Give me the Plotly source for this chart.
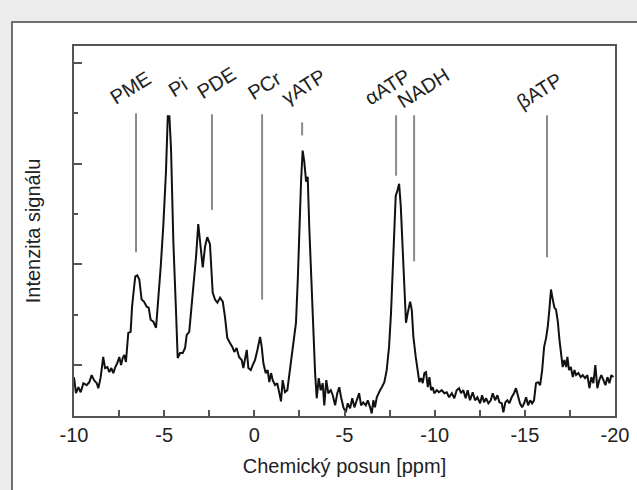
import plotly.graph_objects as go

# ---- spectrum (chemical shift in ppm, intensity in a.u.) ----
ppm = [10.00, 9.89, 9.76, 9.63, 9.48, 9.30, 9.15, 9.02, 8.89, 8.74, 8.65, 8.52, 8.38, 8.28, 8.15, 8.04,
       7.93, 7.82, 7.71, 7.60, 7.49, 7.39, 7.30, 7.21, 7.12, 6.99, 6.86, 6.78, 6.67, 6.60, 6.49, 6.38,
       6.25, 6.12, 5.97, 5.86, 5.75, 5.60, 5.45, 5.32, 5.19, 5.05, 4.90, 4.80, 4.71, 4.62, 4.49, 4.34,
       4.25, 4.12, 3.97, 3.84, 3.75, 3.61, 3.47, 3.35, 3.23, 3.11, 2.97, 2.86, 2.73, 2.61, 2.46, 2.31,
       2.18, 2.05, 1.90, 1.75, 1.63, 1.50, 1.35, 1.22, 1.11, 0.98, 0.85, 0.70, 0.61, 0.52, 0.42, 0.33,
       0.20, 0.09, -0.04, -0.17, -0.32, -0.41, -0.50, -0.63, -0.74, -0.83, -0.93, -1.02, -1.15, -1.27,
       -1.39, -1.48, -1.57, -1.70, -1.83, -1.98, -2.09, -2.20, -2.31, -2.41, -2.49, -2.59, -2.68, -2.77,
       -2.87, -2.96, -3.05, -3.18, -3.27, -3.37, -3.46, -3.57, -3.68, -3.79, -3.88, -3.99, -4.10, -4.24,
       -4.35, -4.48, -4.60, -4.71, -4.81, -4.94, -5.07, -5.18, -5.31, -5.43, -5.55, -5.68, -5.81, -5.92,
       -6.04, -6.18, -6.29, -6.42, -6.51, -6.60, -6.69, -6.79, -6.88, -6.97, -7.07, -7.21, -7.34, -7.47,
       -7.58, -7.68, -7.76, -7.84, -7.93, -8.03, -8.12, -8.21, -8.30, -8.41, -8.51, -8.64, -8.73, -8.82,
       -8.95, -9.06, -9.15, -9.25, -9.34, -9.43, -9.52, -9.62, -9.71, -9.80, -9.89, -9.98, -10.12, -10.24,
       -10.39, -10.54, -10.67, -10.80, -10.95, -11.09, -11.22, -11.35, -11.46, -11.59, -11.72, -11.83,
       -11.96, -12.11, -12.24, -12.37, -12.52, -12.63, -12.74, -12.85, -12.98, -13.11, -13.22, -13.35,
       -13.48, -13.59, -13.72, -13.81, -13.92, -14.03, -14.14, -14.27, -14.40, -14.51, -14.62, -14.73,
       -14.85, -14.96, -15.07, -15.18, -15.29, -15.40, -15.51, -15.62, -15.73, -15.85, -15.96, -16.07,
       -16.18, -16.27, -16.36, -16.45, -16.55, -16.64, -16.73, -16.83, -16.92, -17.01, -17.10, -17.19,
       -17.29, -17.36, -17.45, -17.55, -17.66, -17.75, -17.84, -17.97, -18.10, -18.21, -18.34, -18.47,
       -18.58, -18.69, -18.80, -18.91, -19.02, -19.13, -19.24, -19.36, -19.47, -19.58, -19.69, -19.80,
       -19.91]
intensity = [-12, -28, -22, -27, -18, -20, -17, -10, -15, -18, -23, -12, 8, -3, -2, -7,
             -3, -8, -2, 2, 8, 0, 7, 10, 3, 32, 33, 58, 77, 88, 89, 85,
             65, 63, 58, 57, 45, 43, 37, 65, 98, 138, 192, 247, 247, 215, 122, 52,
             7, 12, 12, 17, 30, 33, 58, 82, 108, 140, 112, 97, 118, 127, 120, 72,
             65, 62, 67, 63, 48, 27, 22, 18, 13, 17, 8, 5, -3, 7, 15, -3,
             -5, 0, 5, 15, 28, 18, 2, -8, -5, -17, -8, -15, -20, -18,
             -27, -36, -15, -27, -25, -5, 15, 28, 42, 85, 135, 182, 213, 202,
             182, 187, 135, 75, 28, -8, -33, -13, -25, -18, -40, -15, -28, -25,
             -30, -40, -28, -22, -32, -42, -47, -38, -43, -33, -42, -35, -28, -40,
             -37, -40, -35, -42, -48, -35, -42, -32, -28, -25, -22, -17, -5, 18,
             52, 95, 138, 168, 173, 180, 158, 122, 82, 42, 52, 63, 55, 28,
             8, -8, -17, -13, -18, -8, -7, -22, -12, -25, -22, -28, -25, -27,
             -25, -28, -27, -32, -28, -33, -25, -23, -28, -25, -33, -25,
             -35, -27, -35, -32, -38, -30, -37, -33, -38, -35, -28, -35,
             -30, -37, -38, -47, -37, -35, -38, -32, -28, -23, -32, -38,
             -42, -38, -32, -40, -35, -38, -35, -18, -17, -20, -5, 18,
             27, 38, 55, 75, 65, 57, 55, 43, 25, 8, -2, 5,
             -2, 8, -5, -2, -12, -5, -10, -8, -12, -10, -13, -10,
             -23, -12, -18, 0, -23, -15, -10, -15, -20, -12, -18, -10,
             -12]

# ---- peak assignment markers ----
marker_names = ["PME", "PDE", "PCr", "γATP", "αATP", "NADH", "βATP"]
marker_ppm = [6.56, 2.35, -0.43, -2.65, -7.86, -8.86, -16.23]
marker_top = [250, 249, 249, 241, 248, 248, 248]
marker_bottom = [112, 154, 65, 228, 188, 103, 107]

# ---- rotated labels ----
label_names = ["PME", "Pi", "PDE", "PCr", "γATP", "αATP", "NADH", "βATP"]
label_ppm = [6.89, 4.23, 2.12, -0.59, -2.70, -7.36, -9.36, -15.79]
label_y = [275, 276, 280, 278, 276, 276, 275, 272]

# ---- axis ticks ----
x_tickvals = [10, 5, 0, -5, -10, -15, -20]
x_ticktext = ["-10", "-5", "0", "-5", "-10", "-15", "-20"]
x_minor = [7.5, 2.5, -2.5, -7.5, -12.5, -17.5]
y_tickvals = [0, 100, 200, 300]
y_minor = [50, 150, 250]

FONT = "Liberation Sans, Arial, sans-serif"
TXT = "#222222"
AXC = "#555555"
FS = 20

fig = go.Figure()

mx, my = [], []
for p, t, b in zip(marker_ppm, marker_top, marker_bottom):
    mx += [p, p, None]
    my += [t, b, None]
fig.add_trace(go.Scatter(x=mx, y=my, mode="lines",
                         line=dict(color="#8a8a8a", width=2), hoverinfo="skip"))

fig.add_trace(go.Scatter(x=ppm, y=intensity, mode="lines",
                         line=dict(color="#111111", width=2)))

for name, xp, yp in zip(label_names, label_ppm, label_y):
    fig.add_annotation(x=xp, y=yp, xref="x", yref="y", text=name, showarrow=False,
                       textangle=-32, font=dict(family=FONT, size=FS, color=TXT))

# white panel with border behind the chart
fig.add_shape(type="rect", xref="paper", yref="paper",
              x0=-0.1146, x1=1.1, y0=-0.25, y1=1.0649,
              fillcolor="white", line=dict(color="#444444", width=1.5), layer="below")

fig.update_layout(
    width=637, height=490,
    margin=dict(l=74, r=22, t=46, b=74),
    paper_bgcolor="#ececec", plot_bgcolor="white",
    showlegend=False,
    font=dict(family=FONT, size=FS, color=TXT),
    xaxis=dict(range=[10, -20], autorange=False,
               tickmode="array", tickvals=x_tickvals, ticktext=x_ticktext,
               ticks="inside", ticklen=6, tickwidth=1.5, tickcolor=AXC,
               minor=dict(tickmode="array", tickvals=x_minor, ticks="inside", ticklen=6, tickwidth=1.5, tickcolor=AXC),
               showline=True, linecolor=AXC, linewidth=2, mirror=True,
               showgrid=False, zeroline=False, automargin=False,
               tickfont=dict(family=FONT, size=FS, color=TXT),
               title=dict(text="Chemický posun [ppm]", standoff=14,
                          font=dict(family=FONT, size=FS, color=TXT))),
    yaxis=dict(range=[-50.6, 316.8], autorange=False,
               tickmode="array", tickvals=y_tickvals, showticklabels=False,
               ticks="inside", ticklen=8, tickwidth=1.5, tickcolor=AXC,
               minor=dict(tickmode="array", tickvals=y_minor, ticks="inside", ticklen=4, tickwidth=1.5, tickcolor=AXC),
               showline=True, linecolor=AXC, linewidth=2, mirror=True,
               showgrid=False, zeroline=False, automargin=False,
               title=dict(text="Intenzita signálu", standoff=26,
                          font=dict(family=FONT, size=FS, color=TXT))),
)

fig.write_html("out.html")
